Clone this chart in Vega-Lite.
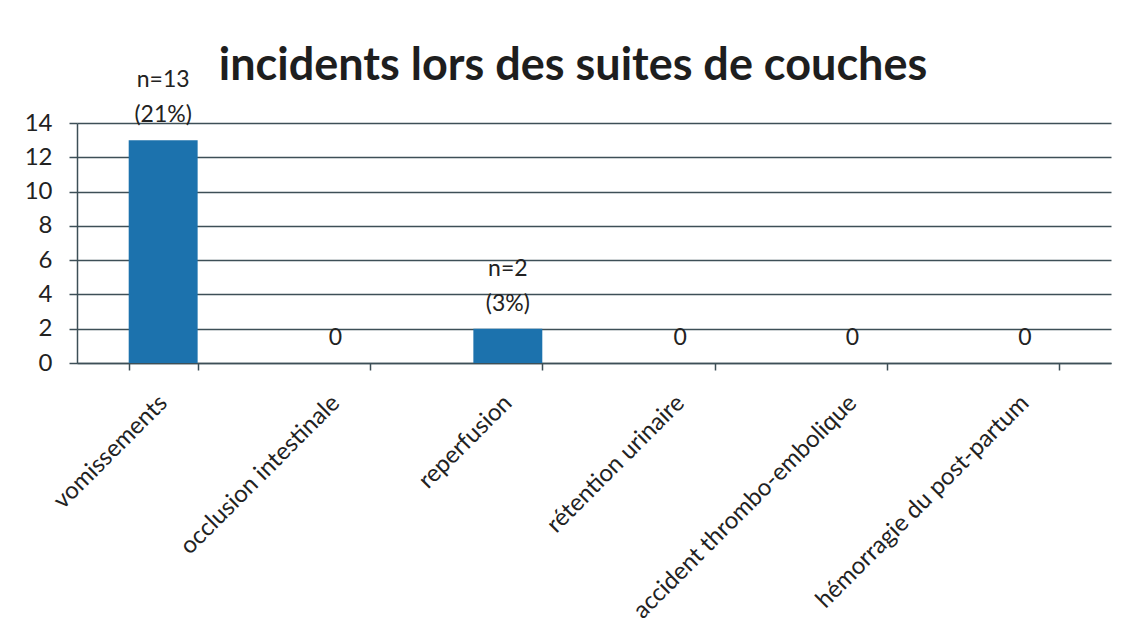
{
  "$schema": "https://vega.github.io/schema/vega-lite/v6.json",
  "width": 1034,
  "height": 240,
  "autosize": {"type": "none"},
  "padding": {"left": 77, "top": 123, "right": 30, "bottom": 274},
  "background": "white",
  "title": {
    "text": "incidents lors des suites de couches",
    "font": "Lato",
    "fontSize": 45,
    "fontWeight": "bold",
    "color": "#1e1e1e",
    "anchor": "middle",
    "dx": -21,
    "offset": -20
  },
  "config": {
    "view": {"stroke": null},
    "font": "Lato"
  },
  "data": {
    "values": [
      {"incident": "vomissements", "n": 13, "count": "n=13", "pct": "(21%)"},
      {"incident": "occlusion intestinale", "n": 0, "count": "", "pct": "0"},
      {"incident": "reperfusion", "n": 2, "count": "n=2", "pct": "(3%)"},
      {"incident": "rétention urinaire", "n": 0, "count": "", "pct": "0"},
      {"incident": "accident thrombo-embolique", "n": 0, "count": "", "pct": "0"},
      {"incident": "hémorragie du post-partum", "n": 0, "count": "", "pct": "0"}
    ]
  },
  "encoding": {
    "x": {
      "field": "incident",
      "type": "nominal",
      "sort": null,
      "scale": {"paddingInner": 0.6, "paddingOuter": 0.3},
      "axis": {
        "title": null,
        "tickBand": "extent",
        "tickSize": 7,
        "tickColor": "#3d4f57",
        "tickWidth": 1.5,
        "domainColor": "#3d4f57",
        "domainWidth": 1.5,
        "labelAngle": -45,
        "labelAlign": "right",
        "labelBaseline": "middle",
        "labelPadding": 29,
        "labelFontSize": 24,
        "labelColor": "#222222",
        "labelFont": "Lato",
        "labelLimit": 400,
        "grid": false
      }
    },
    "y": {
      "field": "n",
      "type": "quantitative",
      "scale": {"domain": [0, 14], "nice": false},
      "axis": {
        "title": null,
        "values": [0, 2, 4, 6, 8, 10, 12, 14],
        "grid": true,
        "gridColor": "#3d4f57",
        "gridWidth": 1.5,
        "tickSize": 8,
        "tickColor": "#3d4f57",
        "tickWidth": 1.5,
        "domainColor": "#3d4f57",
        "domainWidth": 1.5,
        "labelFontSize": 24,
        "labelColor": "#222222",
        "labelPadding": 17,
        "labelFont": "Lato"
      }
    }
  },
  "layer": [
    {
      "mark": {"type": "bar", "color": "#1c72ad", "strokeWidth": 0}
    },
    {
      "mark": {
        "type": "text",
        "baseline": "bottom",
        "dy": -13,
        "fontSize": 23,
        "color": "#222222",
        "font": "Lato"
      },
      "encoding": {"text": {"field": "pct"}}
    },
    {
      "mark": {
        "type": "text",
        "baseline": "bottom",
        "dy": -48,
        "fontSize": 23,
        "color": "#222222",
        "font": "Lato"
      },
      "encoding": {"text": {"field": "count"}}
    }
  ]
}
